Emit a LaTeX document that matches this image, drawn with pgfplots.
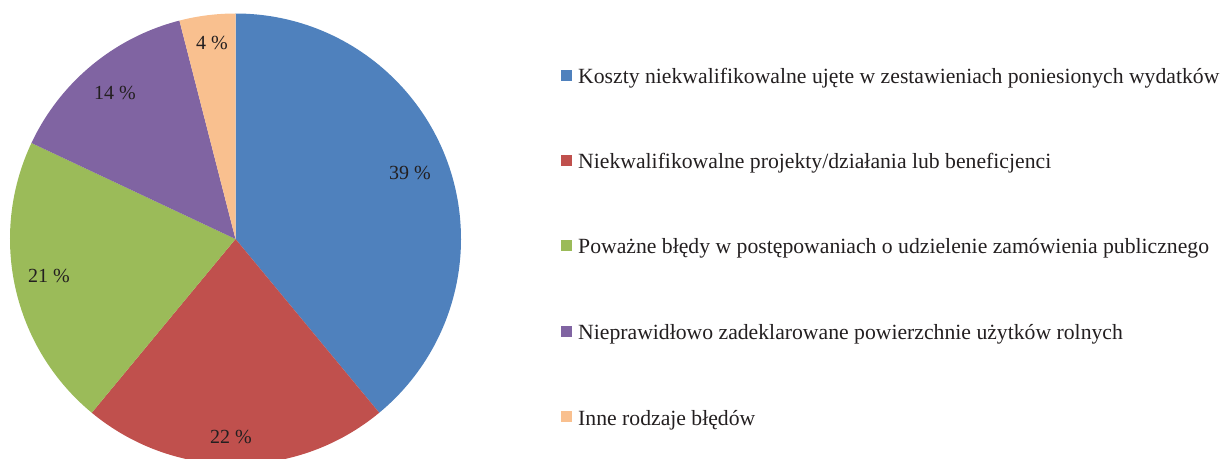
\documentclass[border=0pt]{standalone}
\usepackage{pgfplots}
\pgfplotsset{compat=1.18}
\usepackage{pgfplotstable}
\usepackage{fontspec}
\setmainfont{Liberation Serif}
\definecolor{c1}{HTML}{4F81BD}
\definecolor{c2}{HTML}{C0504D}
\definecolor{c3}{HTML}{9BBB59}
\definecolor{c4}{HTML}{8064A2}
\definecolor{c5}{HTML}{F9C08F}
\definecolor{txt}{HTML}{231F20}
\tikzset{legtext/.style={anchor=base west,inner sep=0pt,text=txt,font=\fontsize{21.7}{26}\selectfont}}

% value, colour, label position (pixels, y downwards)
\pgfplotstableread{
val col lx ly
39 c1 410 173
22 c2 231 437
21 c3 49 276
14 c4 115 93
4 c5 212 43
}\piedata

\begin{document}
\begin{tikzpicture}
\begin{axis}[width=1221pt,height=458pt,scale only axis,
  xmin=0,xmax=1221,ymin=0,ymax=458,hide axis,clip=true]
\coordinate (bl) at (rel axis cs:0,0);
\coordinate (tr) at (rel axis cs:1,1);
\def\cum{90}
\pgfplotsforeachungrouped \i in {0,...,4}{%
  \pgfplotstablegetelem{\i}{val}\of\piedata \let\v\pgfplotsretval
  \pgfplotstablegetelem{\i}{col}\of\piedata \let\c\pgfplotsretval
  \pgfmathsetmacro\endang{\cum-3.6*\v}%
  \edef\tmp{\noexpand\fill[\c] (axis cs:235.5,219) -- ++(\cum:225.5pt) arc[start angle=\cum, end angle=\endang, radius=225.5pt] -- cycle;}%
  \tmp
  \global\let\cum\endang
}
\pgfplotsforeachungrouped \i in {0,...,4}{%
  \pgfplotstablegetelem{\i}{val}\of\piedata \let\v\pgfplotsretval
  \pgfplotstablegetelem{\i}{lx}\of\piedata \let\lx\pgfplotsretval
  \pgfplotstablegetelem{\i}{ly}\of\piedata \let\ly\pgfplotsretval
  \pgfmathsetmacro\lyup{458-\ly}%
  \edef\tmp{\noexpand\node[text=txt,font=\noexpand\fontsize{20}{24}\noexpand\selectfont] at (axis cs:\lx,\lyup) {\v\noexpand\ \noexpand\%};}%
  \tmp
}
\node[legtext] at (axis cs:561,{458-84}) {\textcolor{c1}{\raisebox{3pt}{\rule{11pt}{11pt}}}\hspace{6pt}Koszty niekwalifikowalne ujęte w zestawieniach poniesionych wydatków};
\node[legtext] at (axis cs:561,{458-169}) {\textcolor{c2}{\raisebox{3pt}{\rule{11pt}{11pt}}}\hspace{6pt}Niekwalifikowalne projekty/działania lub beneficjenci};
\node[legtext] at (axis cs:561,{458-254}) {\textcolor{c3}{\raisebox{3pt}{\rule{11pt}{11pt}}}\hspace{6pt}Poważne błędy w postępowaniach o udzielenie zamówienia publicznego};
\node[legtext] at (axis cs:561,{458-340}) {\textcolor{c4}{\raisebox{3pt}{\rule{11pt}{11pt}}}\hspace{6pt}Nieprawidłowo zadeklarowane powierzchnie użytków rolnych};
\node[legtext] at (axis cs:561,{458-425}) {\textcolor{c5}{\raisebox{3pt}{\rule{11pt}{11pt}}}\hspace{6pt}Inne rodzaje błędów};
\end{axis}
\pgfresetboundingbox
\useasboundingbox (bl) rectangle (tr);
\end{tikzpicture}
\end{document}
